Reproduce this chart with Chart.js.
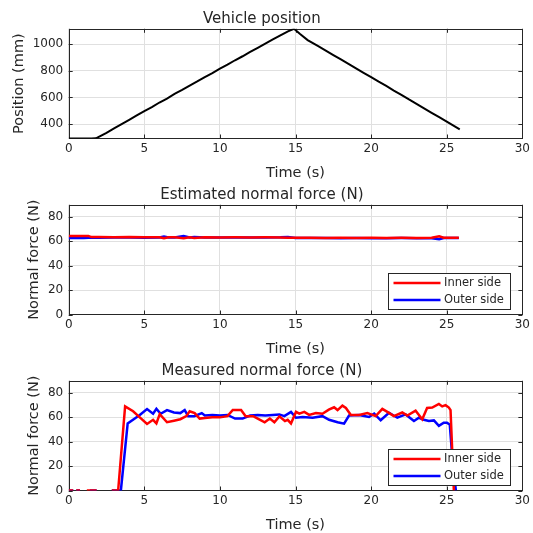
<!DOCTYPE html>
<html lang="en">
<head>
  <meta charset="UTF-8">
  <title>Vehicle position and normal force</title>
  <script src="https://cdn.jsdelivr.net/npm/chart.js"></script>
  <style>
    html, body { margin: 0; padding: 0; background: #fff; overflow: hidden; }
    #wrap { position: relative; width: 533px; height: 533px; }
    .pane { position: absolute; left: 0; width: 533px; height: 185px; }
  </style>
</head>
<body>
<div id="wrap">
  <div class="pane" style="top:0px"><canvas id="grafico-posicao"></canvas></div>
  <div class="pane" style="top:176px"><canvas id="grafico-estimado"></canvas></div>
  <div class="pane" style="top:352px"><canvas id="grafico-medido"></canvas></div>
</div>

<script>
  // ---- data ----
  const xTicks = [0, 5, 10, 15, 20, 25, 30];
  const posTicks = [400, 600, 800, 1000];
  const forceTicks = [0, 20, 40, 60, 80];

  // vehicle position (mm)
  const posTime = [0, 0.5, 1, 1.5, 1.8, 2.5, 3, 3.5, 4, 4.5,
    5, 5.5, 6, 6.5, 7, 7.5, 8, 8.5, 9, 9.5,
    10, 10.5, 11, 11.5, 12, 12.5, 13, 13.5, 14, 14.5,
    14.9, 15.3, 15.8, 16.5, 17, 17.5, 18, 18.5, 19, 19.5,
    20, 20.5, 21, 21.5, 22, 22.5, 23, 23.5, 24, 24.5,
    25, 25.5, 25.86];
  const posValue = [292, 292, 292, 292, 293, 334, 368, 400, 432, 465,
    498, 527, 562, 592, 626, 656, 689, 720, 753, 783,
    816, 846, 879, 909, 941, 972, 1003, 1035, 1066, 1096,
    1115, 1076, 1030, 985, 952, 918, 885, 852, 818, 785,
    752, 718, 686, 652, 620, 585, 552, 518, 485, 452,
    418, 385, 360];

  // estimated normal force (N)
  const estTime = [0, 0.5, 1.0, 1.3, 1.5, 2, 3, 4, 5, 6,
    6.3, 6.6, 7, 7.6, 8, 8.3, 9, 10, 11, 12,
    13, 14, 14.5, 15, 16, 17, 18, 19, 20, 21,
    22, 23, 24, 24.5, 24.8, 25.3, 25.8];
  const estInner = [64.5, 64.5, 64.5, 64.5, 63.5, 63.5, 63.3, 63.5, 63.3, 63.4,
    62.5, 63.4, 63.3, 62.6, 63.4, 62.8, 63.3, 63.2, 63.3, 63.2,
    63.3, 63.2, 63.0, 62.9, 62.9, 62.8, 62.9, 62.8, 62.9, 62.8,
    62.9, 62.8, 62.9, 64.2, 63.0, 62.9, 62.9];
  const estOuter = [62.8, 62.8, 62.8, 62.9, 63.0, 63.0, 63.1, 63.1, 63.0, 63.1,
    64.0, 63.1, 63.1, 64.3, 63.2, 63.5, 63.1, 63.1, 63.1, 63.2,
    63.2, 63.3, 63.5, 62.8, 62.7, 62.7, 62.6, 62.7, 62.6, 62.6,
    62.7, 62.6, 62.6, 61.8, 62.7, 62.8, 62.8];

  // measured normal force (N), null = no sample
  const innerTime = [0, 0.3, 0.4, 0.5, 0.75, 0.9, 1.2, 1.85, 2.3, 2.85,
    3.27, 3.73, 4.26, 4.7, 5.18, 5.58, 5.8, 6.02, 6.5, 6.96,
    7.38, 7.78, 8.0, 8.33, 8.66, 9.0, 9.5, 10.0, 10.5, 10.85,
    11.4, 11.7, 12.2, 12.5, 12.96, 13.3, 13.6, 13.93, 14.3, 14.48,
    14.7, 15.03, 15.25, 15.58, 15.9, 16.35, 16.78, 17.2, 17.55, 17.78,
    18.1, 18.33, 18.66, 19.2, 19.75, 20.3, 20.74, 21.07, 21.5, 22.06,
    22.39, 22.94, 23.16, 23.38, 23.7, 24.04, 24.48, 24.7, 24.92, 25.14,
    25.25, 25.47];
  const innerValue = [0, 0, null, 0, 0, null, 0, 0, null, 0,
    0, 69, 65, 60, 54.6, 58, 55, 62.6, 56, 57.3,
    58.5, 61, 65, 63.5, 59, 59.5, 60, 60, 61, 66,
    66, 61, 61, 59, 56, 59, 56, 60.8, 57, 58,
    55, 64.5, 63, 64.5, 62, 63.5, 63, 66.3, 68.3, 66,
    69.6, 67.7, 62, 62, 63.5, 61, 67, 64.5, 61, 64,
    61.5, 65.5, 62, 58.5, 67.7, 68, 71, 69, 70, 68,
    66, 0];
  const outerTime = [0, 0.3, 0.4, 0.5, 0.75, 1.0, 1.4, 1.85, 2.3, 2.85,
    3.45, 3.9, 4.3, 4.7, 5.18, 5.58, 5.8, 6.08, 6.5, 6.96,
    7.38, 7.67, 7.9, 8.3, 8.8, 9.0, 9.5, 10.0, 10.5, 11.0,
    11.5, 12.0, 12.5, 13.0, 13.5, 13.93, 14.26, 14.7, 15.03, 15.47,
    16.13, 16.78, 17.22, 17.78, 18.21, 18.54, 19.2, 19.86, 20.2, 20.63,
    21.18, 21.73, 22.28, 22.83, 23.16, 23.49, 23.82, 24.15, 24.48, 24.8,
    25.02, 25.2, 25.35, 25.6];
  const outerValue = [0, 0, null, 0, 0, null, 0, 0, null, 0,
    0, 55, 58.5, 62, 66.8, 63, 67, 63, 66, 64,
    63.5, 66, 61, 61, 63.5, 61.5, 62, 61.5, 62, 59,
    59, 61.5, 62, 61.5, 62, 62.4, 61, 64.5, 59.7, 60.3,
    59.7, 61, 58, 56, 54.8, 61.5, 62, 60.3, 63, 57.6,
    63.8, 59.7, 62.4, 57, 59.7, 58, 57, 57.5, 53, 55.6,
    55.6, 54, 30, 0];

  const seriesNames = ['Inner side', 'Outer side'];
  const seriesColors = ['#ff0000', '#0000ff'];

  // ---- look ----
  const FONT = "'DejaVu Sans', 'Noto Sans', sans-serif";
  const TEXT = '#262626';
  const GRID = '#e0e0e0';
  Chart.defaults.font.family = FONT;
  Chart.defaults.color = TEXT;

  function pares(xs, ys) {
    return xs.map((x, i) => ({ x: x, y: ys[i] }));
  }

  // axes box with inward ticks, drawn under the data
  const caixaPlugin = {
    id: 'caixa',
    beforeDatasetsDraw(chart) {
      const { ctx, chartArea: a, scales } = chart;
      ctx.save();
      ctx.strokeStyle = TEXT;
      ctx.lineWidth = 1;
      ctx.strokeRect(Math.round(a.left) + 0.5, Math.round(a.top) + 0.5,
        Math.round(a.right - a.left) - 1, Math.round(a.bottom - a.top) - 1);
      const t = 4;
      ctx.beginPath();
      scales.x.ticks.forEach(tk => {
        const px = Math.round(scales.x.getPixelForValue(tk.value)) + 0.5;
        ctx.moveTo(px, a.bottom); ctx.lineTo(px, a.bottom - t);
        ctx.moveTo(px, a.top); ctx.lineTo(px, a.top + t);
      });
      scales.y.ticks.forEach(tk => {
        const py = Math.round(scales.y.getPixelForValue(tk.value)) + 0.5;
        ctx.moveTo(a.left, py); ctx.lineTo(a.left + t, py);
        ctx.moveTo(a.right, py); ctx.lineTo(a.right - t, py);
      });
      ctx.stroke();
      ctx.restore();
    }
  };

  // legend box in the lower right corner of the plot
  const legendaPlugin = {
    id: 'legenda',
    afterDatasetsDraw(chart, args, opts) {
      if (!opts.show) return;
      const { ctx, chartArea: a } = chart;
      const w = 122, h = 36;
      const x0 = Math.round(a.right - 12.7 - w) + 0.5;
      const y0 = Math.round(a.bottom - 6 - h) + 0.5;
      ctx.save();
      ctx.fillStyle = '#fff';
      ctx.fillRect(x0, y0, w, h);
      ctx.strokeStyle = TEXT;
      ctx.lineWidth = 1;
      ctx.strokeRect(x0, y0, w, h);
      chart.data.datasets.forEach((ds, i) => {
        const yy = y0 + 9.5 + i * 17;
        ctx.strokeStyle = ds.borderColor;
        ctx.lineWidth = 2.5;
        ctx.beginPath();
        ctx.moveTo(x0 + 5, yy);
        ctx.lineTo(x0 + 52, yy);
        ctx.stroke();
        ctx.fillStyle = TEXT;
        ctx.font = '11.5px ' + FONT;
        ctx.textBaseline = 'middle';
        ctx.fillText(ds.label, x0 + 55.5, yy);
      });
      ctx.restore();
    }
  };

  function criarGrafico(id, titulo, datasets, yTitulo, yMin, yMax, yTicks, yTitlePad, legenda) {
    return new Chart(document.getElementById(id), {
      type: 'line',
      data: { datasets: datasets },
      plugins: [caixaPlugin, legendaPlugin],
      options: {
        responsive: true,
        maintainAspectRatio: false,
        animation: false,
        layout: { padding: { left: 0, right: 9.3, top: 0, bottom: 0 } },
        elements: { point: { radius: 0 }, line: { tension: 0 } },
        plugins: {
          legend: { display: false },
          tooltip: { enabled: false },
          title: {
            display: true,
            text: titulo,
            color: TEXT,
            font: { size: 15, weight: 'normal' },
            padding: { top: 9.7, bottom: 1.1 }
          },
          legenda: { show: legenda }
        },
        scales: {
          x: {
            type: 'linear',
            min: 0, max: 30,
            afterBuildTicks: s => { s.ticks = xTicks.map(v => ({ value: v })); },
            afterFit: s => { s.height = 46.5; },
            grid: { color: GRID, drawTicks: false },
            border: { display: false },
            ticks: { padding: 3, font: { size: 12 }, color: TEXT, maxRotation: 0, callback: v => String(v) },
            title: { display: true, text: 'Time (s)', font: { size: 14.5 }, color: TEXT, padding: { top: 0, bottom: 3 } }
          },
          y: {
            min: yMin, max: yMax,
            afterBuildTicks: s => { s.ticks = yTicks.map(v => ({ value: v })); },
            afterFit: s => { s.width = 68.7; },
            grid: { color: GRID, drawTicks: false },
            border: { display: false },
            ticks: { padding: 5.5, font: { size: 12 }, color: TEXT, callback: v => String(v) },
            title: { display: true, text: yTitulo, font: { size: 14.5 }, color: TEXT, padding: { top: yTitlePad, bottom: 0 } }
          }
        }
      }
    });
  }

  criarGrafico('grafico-posicao', 'Vehicle position', [{
    label: 'Position',
    data: pares(posTime, posValue),
    borderColor: '#000000',
    borderWidth: 2
  }], 'Position (mm)', 292, 1115, posTicks, 10.3, false);

  criarGrafico('grafico-estimado', 'Estimated normal force (N)', [
    { label: seriesNames[0], data: pares(estTime, estInner), borderColor: seriesColors[0], borderWidth: 2.5 },
    { label: seriesNames[1], data: pares(estTime, estOuter), borderColor: seriesColors[1], borderWidth: 2.5 }
  ], 'Normal force (N)', 0, 90, forceTicks, 25.3, true);

  criarGrafico('grafico-medido', 'Measured normal force (N)', [
    { label: seriesNames[0], data: pares(innerTime, innerValue), borderColor: seriesColors[0], borderWidth: 2.5, spanGaps: false },
    { label: seriesNames[1], data: pares(outerTime, outerValue), borderColor: seriesColors[1], borderWidth: 2.5, spanGaps: false }
  ], 'Normal force (N)', 0, 90, forceTicks, 25.3, true);
</script>
</body>
</html>
